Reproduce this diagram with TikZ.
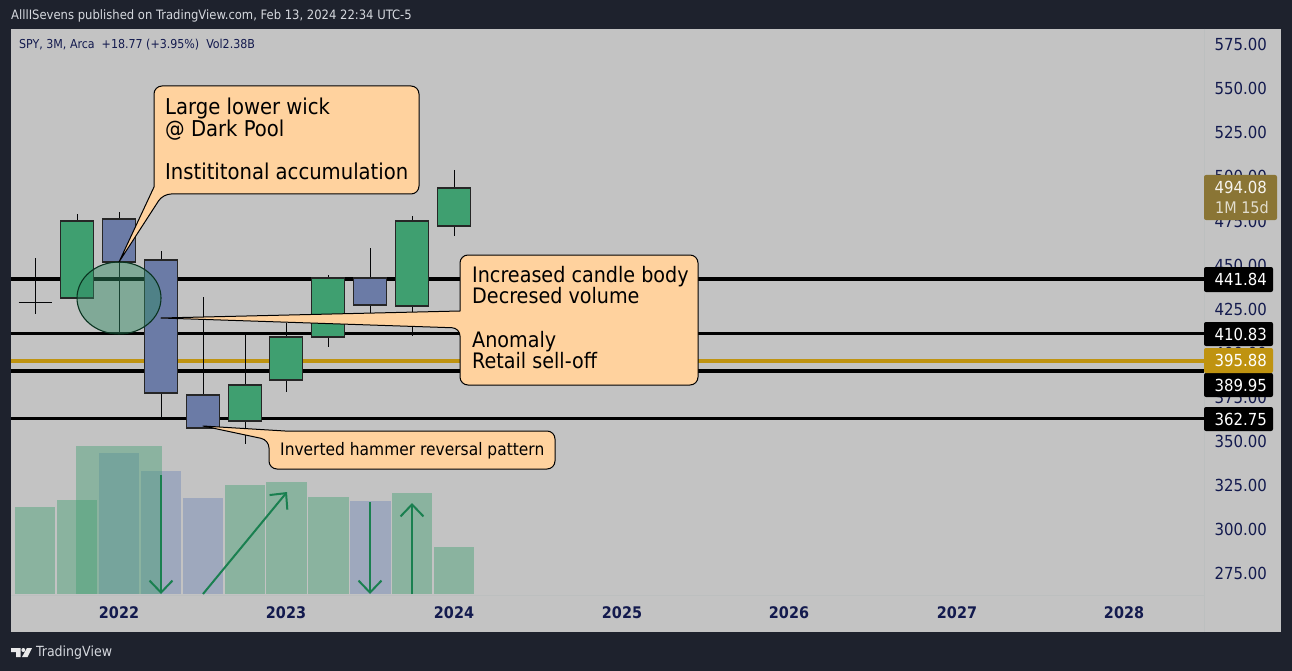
\documentclass[tikz,border=0pt]{standalone}
\usepackage{fontspec}
\setmainfont{DejaVu Sans Condensed}
\usetikzlibrary{arrows.meta}
\definecolor{frameC}{HTML}{1E222D}
\definecolor{paneC}{HTML}{C3C3C3}
\definecolor{gridC}{HTML}{BCBFBF}
\definecolor{upC}{HTML}{3F9F70}
\definecolor{downC}{HTML}{6B7BA6}
\definecolor{upvolC}{HTML}{8AB39F}
\definecolor{downvolC}{HTML}{9EA8BD}
\definecolor{navyC}{HTML}{131A4E}
\definecolor{goldC}{HTML}{BF9310}
\definecolor{brownC}{HTML}{8A7535}
\definecolor{noteC}{HTML}{FFD29E}
\definecolor{arrowC}{HTML}{1A8050}
\definecolor{headC}{HTML}{D5D8DE}
\definecolor{ringC}{HTML}{2F8A63}
\tikzset{
  x=1pt,y=-1pt,
  level/.style={draw=black,line width=#1},
  wick/.style={draw=black!85!frameC,line width=1pt},
  bodyup/.style={fill=upC,draw=black!85,line width=1.1pt},
  bodydown/.style={fill=downC,draw=black!85,line width=1.1pt},
  volup/.style={fill=upvolC},
  voldown/.style={fill=downvolC},
  callout/.style={fill=noteC,draw=black,line width=1pt,line join=round},
  notetext/.style={anchor=north west,align=left,inner sep=0pt,text=black},
  axislabel/.style={anchor=east,inner sep=0pt,text=navyC,font=\fontsize{16.6}{18}\selectfont},
  yearlabel/.style={inner sep=0pt,text=navyC,font=\fontsize{16}{16}\selectfont\bfseries},
  tagtext/.style={inner sep=0pt,anchor=east,text=white,font=\fontsize{16.6}{18}\selectfont},
  flow/.style={draw=arrowC,line width=2pt,-{Straight Barb[length=12pt,width=23pt,line width=2pt]}},
}
\newcommand{\candle}[7]{% x-centre, wick top, body top, body bottom, wick bottom, style, name
  \coordinate (#7wt) at (#1,#2);
  \coordinate (#7wb) at (#1,#5);
  \draw[wick] (#7wt) -- (#7wb);
  \path[#6] (#1-16.2,#3) rectangle (#1+16.2,#4);
}
\newcommand{\volbar}[4]{\fill[#4] (#1,#3) rectangle (#2,594);}
\newcommand{\axlab}[2]{\node[axislabel] at (1267,#1) {#2};}
\newcommand{\pricetag}[4]{% y top, y bottom, colour, text
  \fill[#3,rounded corners=2pt] (1204,#1) rectangle (1273,#2);
  \node[tagtext] at (1267,{(#1+#2)/2}) {#4};
}
\begin{document}
\begin{tikzpicture}
\useasboundingbox (0,0) rectangle (1292,671);
\fill[frameC] (0,0) rectangle (1292,671);
\fill[paneC] (11,29) rectangle (1281,632);
\draw[gridC,line width=.8pt] (1204,29) -- (1204,632);
\draw[gridC,line width=.8pt] (11,595) -- (1204,595);
% header / footer
\node[anchor=west,inner sep=0pt,text=headC,font=\fontsize{12.9}{14}\selectfont] (hdr) at (11,16) {AlllISevens published on TradingView.com, Feb 13, 2024 22:34 UTC-5};
\node[anchor=west,inner sep=0pt,text=navyC,font=\fontsize{12.3}{12}\selectfont] (info) at (19,45) {SPY, 3M, Arca\ \ +18.77 (+3.95\%)\ \ Vol2.38B};
\fill[white!90!frameC] (11,648) -- (20.5,648) -- (20.5,657) -- (16,657) -- (16,652) -- (11,652) -- cycle;
\fill[white!90!frameC] (23.3,650) circle (2pt);
\fill[white!90!frameC] (27,648) -- (32,648) -- (27.5,657) -- (22,657) -- cycle;
\node[anchor=west,inner sep=0pt,text=headC,font=\fontsize{14}{14}\selectfont] (brand) at (36,652.5) {TradingView};
% price axis
\axlab{44}{575.00}\axlab{88}{550.00}\axlab{132.5}{525.00}\axlab{176.5}{500.00}
\axlab{221}{475.00}\axlab{265}{450.00}\axlab{309}{425.00}\axlab{353}{400.00}
\axlab{397}{375.00}\axlab{441}{350.00}\axlab{485}{325.00}\axlab{529}{300.00}\axlab{573}{275.00}
% time axis
\node[yearlabel] at (119,613) {2022};
\node[yearlabel] at (286,613) {2023};
\node[yearlabel] at (454,613) {2024};
\node[yearlabel] at (622,613) {2025};
\node[yearlabel] at (789,613) {2026};
\node[yearlabel] at (957,613) {2027};
\node[yearlabel] at (1124,613) {2028};
% volume
\volbar{15}{55}{507}{volup}
\volbar{57}{97}{500}{volup}
\volbar{98.5}{139}{453}{voldown}
\volbar{141}{181}{471}{voldown}
\volbar{183}{223}{498}{voldown}
\volbar{224.5}{265}{485}{volup}
\volbar{266}{306.5}{482}{volup}
\volbar{308}{348.5}{497}{volup}
\volbar{350}{390.5}{501}{voldown}
\volbar{392}{432}{493}{volup}
\volbar{434}{474}{547}{volup}
\fill[upC,opacity=.42] (76,446) rectangle (161.5,594);
% levels
\draw[level=4pt] (11,279) -- (1204,279);
\draw[level=3pt] (11,333.7) -- (1204,333.7);
\draw[draw=goldC,line width=4pt] (11,360.5) -- (1204,360.5);
\draw[level=4pt] (11,371) -- (1204,371);
\draw[level=3pt] (11,418.5) -- (1204,418.5);
% candles
\coordinate (dw) at (35,258); \coordinate (ds) at (35,314);
\coordinate (dl) at (18.5,302); \coordinate (dr) at (52,302);
\draw[wick] (dw) -- (ds);
\draw[wick] (dl) -- (dr);
\candle{77}{214}{221}{298}{298}{bodyup}{ca}
\candle{119}{212}{219}{262}{333}{bodydown}{cb}
\candle{161}{251}{260}{393}{418}{bodydown}{cc}
\candle{203}{297}{395}{428}{428}{bodydown}{cd}
\candle{245}{335}{385}{421}{444}{bodyup}{ce}
\candle{286}{323}{337}{380}{392}{bodyup}{cf}
\candle{328}{275}{278}{337}{347}{bodyup}{cg}
\candle{370}{248}{278}{305}{313}{bodydown}{ch}
\candle{412}{216}{221}{306}{336}{bodyup}{ci}
\candle{454}{170}{188}{226}{236}{bodyup}{cj}
% ellipse
\path[fill=ringC,fill opacity=.45,draw=black!60!arrowC,line width=1.1pt] (119,298) ellipse [x radius=42,y radius=36];
% flow arrows
\coordinate (fa1) at (161,475); \coordinate (fb1) at (161,594);
\coordinate (fa2) at (203,594); \coordinate (fb2) at (287,492);
\coordinate (fa3) at (370,502); \coordinate (fb3) at (370,594);
\coordinate (fa4) at (412,594); \coordinate (fb4) at (412,503);
\draw[flow] (fa1) -- (fb1);
\draw[flow] (fa2) -- (fb2);
\draw[flow] (fa3) -- (fb3);
\draw[flow] (fa4) -- (fb4);
% price tags
\pricetag{267}{292}{black}{441.84}
\pricetag{322}{346}{black}{410.83}
\pricetag{373}{397}{black}{389.95}
\pricetag{348}{373}{goldC}{395.88}
\pricetag{407}{431}{black}{362.75}
\fill[brownC,rounded corners=2pt] (1204,175) rectangle (1277,220);
\node[tagtext,text=white!92!brownC] at (1267,187.5) {494.08};
\node[tagtext,text=white!75!brownC,font=\fontsize{16}{16}\selectfont] at (1269,208) {1M 15d};
% callouts
\coordinate (tipA) at (119,262);
\draw[callout] (tipA) -- (154,187) [rounded corners=8pt] -- (154,86) -- (419,86) -- (419,194) -- (163,194) [sharp corners] -- cycle;
\node[notetext,font=\fontsize{21.8}{21.6}\selectfont] (noteA) at (165,98) {Large lower wick\\@ Dark Pool\\[21.6pt]Instititonal accumulation};
\coordinate (tipB) at (161,318);
\draw[callout] (tipB) -- (460,311) [rounded corners=8pt] -- (460,255) -- (698,255) -- (698,385) -- (460,385) -- (460,328) [sharp corners] -- cycle;
\node[notetext,font=\fontsize{21.3}{21.6}\selectfont] (noteB) at (472,266) {Increased candle body\\Decresed volume\\[21.6pt]Anomaly\\Retail sell-off};
\coordinate (tipC) at (203,426);
\draw[callout] (tipC) -- (285,431) [rounded corners=8pt] -- (555,431) -- (555,469) -- (269,469) -- (269,440) [sharp corners] -- cycle;
\node[notetext,anchor=west,font=\fontsize{17.2}{17}\selectfont] (noteC) at (280,450.5) {Inverted hammer reversal pattern};
\end{tikzpicture}
\end{document}
